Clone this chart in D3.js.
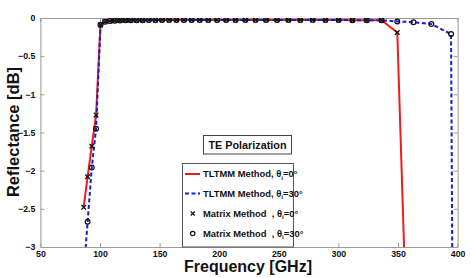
<!DOCTYPE html>
<html><head><meta charset="utf-8">
<script src="https://cdn.jsdelivr.net/npm/d3@7"></script>
<style>body{margin:0;background:#fff}svg{display:block;font-family:"Liberation Sans",Arial,sans-serif}</style>
</head><body><svg id="c" width="472" height="278"></svg>
<script>
const freq = [86.3, 89.6, 93.1, 96.7, 100.4, 104.2, 108.3, 112.4, 116.8, 121.3, 125.9, 130.8, 135.8, 141.0, 146.5, 152.1, 158.0, 164.1, 170.4, 176.9, 183.7, 190.8, 198.2, 205.8, 213.7, 221.9, 230.5, 239.3, 248.5, 258.1, 268.0, 278.4, 289.1, 300.2, 311.8, 323.8, 336.2, 349.4, 363.0, 378.0, 394.5, 409.0];
const refl0 = [-2.48, -2.08, -1.68, -1.27, -0.09, -0.05, -0.04, -0.035, -0.032, -0.03, -0.03, -0.028, -0.028, -0.027, -0.027, -0.026, -0.026, -0.026, -0.025, -0.025, -0.025, -0.025, -0.025, -0.025, -0.025, -0.025, -0.025, -0.025, -0.025, -0.026, -0.026, -0.026, -0.027, -0.027, -0.028, -0.029, -0.03, -0.19, -6.9];
const refl30 = [-3.35, -2.67, -1.96, -1.45, -0.09, -0.05, -0.04, -0.035, -0.032, -0.03, -0.03, -0.028, -0.028, -0.027, -0.027, -0.026, -0.026, -0.026, -0.025, -0.025, -0.025, -0.025, -0.025, -0.025, -0.025, -0.025, -0.025, -0.025, -0.025, -0.026, -0.026, -0.026, -0.027, -0.027, -0.028, -0.029, -0.03, -0.045, -0.055, -0.08, -0.21, -40];
const xTicks = [50, 100, 150, 200, 250, 300, 350, 400];
const yTicks = [0, -0.5, -1, -1.5, -2, -2.5, -3];
const legendLabels = [["TLTMM Method, θ","=0°"],["TLTMM Method, θ","=30°"],["Matrix Method  , θ","=0°"],["Matrix Method  , θ","=30°"]];

const svg = d3.select("#c");
const L = 40.4, R = 457.6, T = 18, B = 247;
const x = d3.scaleLinear().domain([50, 400]).range([L, R]);
const y = d3.scaleLinear().domain([-3, 0]).range([B, T]);

svg.append("defs").append("clipPath").attr("id","clip").append("rect")
  .attr("x", L).attr("y", T).attr("width", R-L).attr("height", B-T);

const axCol = "#9a9a9a";
function styleAxis(g){ g.select(".domain").attr("stroke", axCol); g.selectAll(".tick line").attr("stroke", axCol);
  g.selectAll("text").attr("font-weight","bold").attr("font-size","8.8px").attr("fill","#111"); }
svg.append("g").attr("transform",`translate(0,${B})`)
  .call(d3.axisBottom(x).tickValues(xTicks).tickSizeInner(-4).tickSizeOuter(0).tickPadding(4).tickFormat(d3.format("d")))
  .call(styleAxis);
svg.append("g").attr("transform",`translate(0,${T})`)
  .call(d3.axisTop(x).tickValues(xTicks).tickSizeInner(-4).tickSizeOuter(0).tickFormat(""))
  .call(styleAxis);
svg.append("g").attr("transform",`translate(${L},0)`)
  .call(d3.axisLeft(y).tickValues(yTicks).tickSizeInner(-4).tickSizeOuter(0).tickPadding(5).tickFormat(d => d === 0 ? "0" : d3.format("")(d)))
  .call(styleAxis);
svg.append("g").attr("transform",`translate(${R},0)`)
  .call(d3.axisRight(y).tickValues(yTicks).tickSizeInner(-4).tickSizeOuter(0).tickFormat(""))
  .call(styleAxis);

const plot = svg.append("g").attr("clip-path","url(#clip)");
const d0 = refl0.map((v,i)=>[freq[i], v]);
const d30 = refl30.map((v,i)=>[freq[i], v]);
const line = d3.line().x(d=>x(d[0])).y(d=>y(d[1]));

plot.append("path").attr("d", line(d0)).attr("fill","none").attr("stroke","#ee1c1c").attr("stroke-width",2);
plot.append("path").attr("d", line(d30)).attr("fill","none").attr("stroke","#1a1ad6").attr("stroke-width",2).attr("stroke-dasharray","4,2.5");

const s = 2.3;
plot.selectAll(".xm").data(d0).enter().append("path")
  .attr("d", d=>`M${x(d[0])-s},${y(d[1])-s}L${x(d[0])+s},${y(d[1])+s}M${x(d[0])-s},${y(d[1])+s}L${x(d[0])+s},${y(d[1])-s}`)
  .attr("stroke","#111").attr("stroke-width",1.3).attr("fill","none");
plot.selectAll(".om").data(d30).enter().append("circle")
  .attr("cx", d=>x(d[0])).attr("cy", d=>y(d[1])).attr("r",2.4)
  .attr("stroke","#111").attr("stroke-width",1.2).attr("fill","none");

svg.append("rect").attr("x",203.5).attr("y",135.5).attr("width",88).attr("height",18.5).attr("fill","#fff").attr("stroke","#444").attr("stroke-width",1);
svg.append("text").attr("x",247.5).attr("y",148.5).attr("text-anchor","middle").attr("font-weight","bold").attr("font-size","10.8px").attr("fill","#111").text("TE Polarization");

const lg = svg.append("g");
lg.append("rect").attr("x",182.5).attr("y",163.5).attr("width",111).attr("height",83.5).attr("fill","#fff").attr("stroke","#555").attr("stroke-width",1);
const rows = [174, 193.5, 213.5, 233.5];
lg.append("line").attr("x1",185).attr("x2",200).attr("y1",rows[0]).attr("y2",rows[0]).attr("stroke","#ee1c1c").attr("stroke-width",2);
lg.append("line").attr("x1",185).attr("x2",200).attr("y1",rows[1]).attr("y2",rows[1]).attr("stroke","#1a1ad6").attr("stroke-width",2).attr("stroke-dasharray","4,2.5");
lg.append("path").attr("d",`M${192.7-2},${rows[2]-2}L${192.7+2},${rows[2]+2}M${192.7-2},${rows[2]+2}L${192.7+2},${rows[2]-2}`).attr("stroke","#111").attr("stroke-width",1.2);
lg.append("circle").attr("cx",192.7).attr("cy",rows[3]).attr("r",2.2).attr("fill","none").attr("stroke","#111").attr("stroke-width",1.2);
legendLabels.forEach((lab,i)=>{
  const t = lg.append("text").attr("x",203).attr("y",rows[i]+3.2).attr("font-weight","bold").attr("font-size","9.4px").attr("fill","#111").style("white-space","pre");
  t.append("tspan").text(lab[0]);
  t.append("tspan").attr("dy",2.6).attr("font-size","6.2px").text("i");
  t.append("tspan").attr("dy",-2.6).text(lab[1]);
});

svg.append("text").attr("x",248).attr("y",272).attr("text-anchor","middle").attr("font-weight","bold").attr("font-size","16px").attr("fill","#111").text("Frequency [GHz]");
svg.append("text").attr("transform","translate(18.5,132) rotate(-90)").attr("text-anchor","middle").attr("font-weight","bold").attr("font-size","16.5px").attr("fill","#111").text("Reflectance [dB]");
</script></body></html>
